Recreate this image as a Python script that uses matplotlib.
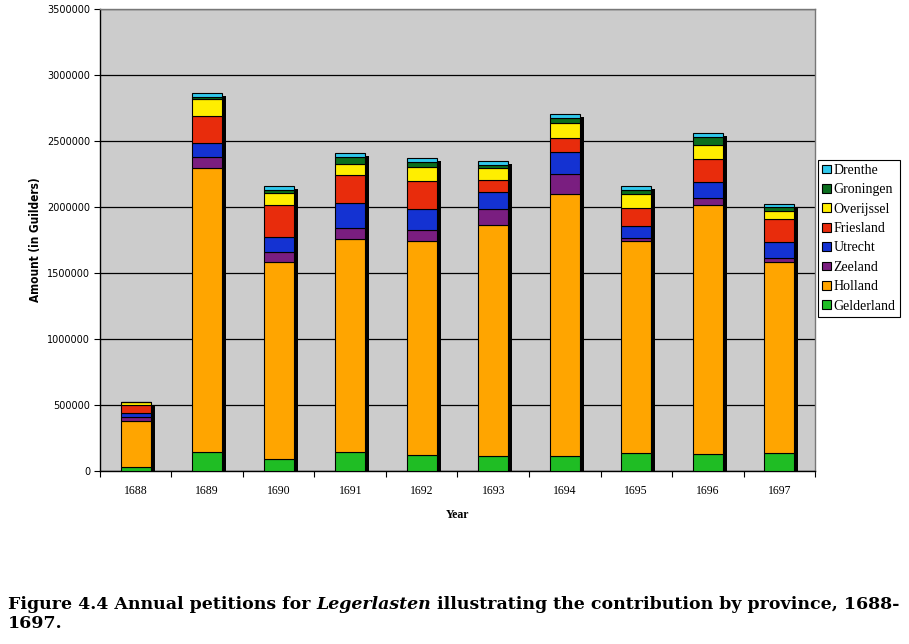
import numpy as np
import matplotlib
matplotlib.use('Agg')
import matplotlib.pyplot as plt
from matplotlib.patches import Rectangle
from matplotlib.transforms import offset_copy

# years and province contributions (guilders)
years = ['1688', '1689', '1690', '1691', '1692', '1693', '1694', '1695', '1696', '1697']
provinces = ['Gelderland', 'Holland', 'Zeeland', 'Utrecht', 'Friesland', 'Overijssel', 'Groningen', 'Drenthe']

gelderland = [30000, 142000, 89000, 144000, 124000, 114000, 114000, 134000, 127000, 134000]
holland = [349000, 2155000, 1491000, 1616000, 1616000, 1750000, 1982000, 1606000, 1886000, 1446000]
zeeland = [28000, 83000, 76000, 81000, 86000, 121000, 155000, 25000, 56000, 31000]
utrecht = [31000, 106000, 114000, 192000, 159000, 127000, 167000, 89000, 118000, 121000]
friesland = [63000, 207000, 243000, 207000, 210000, 91000, 106000, 141000, 178000, 180000]
overijssel = [25000, 122000, 94000, 84000, 111000, 93000, 114000, 104000, 103000, 55000]
groningen = [0, 16000, 25000, 56000, 36000, 21000, 35000, 33000, 64000, 31000]
drenthe = [0, 30000, 25000, 30000, 30000, 30000, 28000, 25000, 30000, 28000]

colors = ['#1fbd24', '#ffa500', '#7a1e80', '#1432d2', '#e82c0c', '#ffee00', '#0b6e1e', '#30c8ec']

series = [gelderland, holland, zeeland, utrecht, friesland, overijssel, groningen, drenthe]

fig = plt.figure(figsize=(9.09, 6.44), dpi=100)
ax = fig.add_axes([0.110, 0.2686, 0.7866, 0.7174])
ax.set_facecolor('#cccccc')

x = np.arange(len(years))
width = 0.42
totals = np.sum(series, axis=0)

# drop shadow behind each stacked column
shadow = offset_copy(ax.transData, fig=fig, x=4, y=-3, units='dots')
ax.bar(x, totals, width, color='black', transform=shadow, zorder=2)

bottom = np.zeros(len(years))
for name, vals, c in zip(provinces, series, colors):
    ax.bar(x, vals, width, bottom=bottom, color=c, edgecolor='black', linewidth=0.8, zorder=3, label=name)
    bottom += np.array(vals)

ax.set_xlim(-0.5, 9.5)
ax.set_ylim(0, 3500000)
ax.set_yticks(np.arange(0, 3500001, 500000))
ax.set_yticklabels([str(v) for v in range(0, 3500001, 500000)], fontsize=7, family='DejaVu Sans')
ax.yaxis.grid(True, color='black', linewidth=0.9, zorder=1)
ax.set_axisbelow(True)

ax.set_xticks(np.arange(-0.5, 10, 1))
ax.set_xticklabels([])
ax.set_xticks(x, minor=True)
ax.set_xticklabels(years, minor=True, fontsize=8.5, family='Liberation Serif')
ax.tick_params(axis='x', which='minor', length=0, pad=10)
ax.tick_params(axis='x', which='major', length=4, direction='out')
ax.tick_params(axis='y', length=4, direction='out', pad=3)

for s in ['top', 'right']:
    ax.spines[s].set_color('#777777')
    ax.spines[s].set_linewidth(1.0)
for s in ['left', 'bottom']:
    ax.spines[s].set_color('black')
    ax.spines[s].set_linewidth(1.0)

ax.set_xlabel('Year', fontsize=8.5, fontweight='bold', family='Liberation Serif', labelpad=9)
ax.set_ylabel('Amount (in Guilders)', fontsize=8.5, fontweight='bold',
              family='DejaVu Sans', fontstretch='condensed', labelpad=4)

handles = [Rectangle((0, 0), 1, 1, facecolor=c, edgecolor='black', linewidth=0.8) for c in colors]
leg = fig.legend(handles[::-1], provinces[::-1], loc='upper left', bbox_to_anchor=(0.9, 0.752),
                 prop={'family': 'Liberation Serif', 'size': 10}, handlelength=0.6, handleheight=0.6,
                 handletextpad=0.2, labelspacing=0.46, borderpad=0.3, borderaxespad=0,
                 fancybox=False, framealpha=1, edgecolor='black')
leg.get_frame().set_linewidth(0.8)

# caption with an italic word in the middle, sized so the first line ends near the right edge
renderer = fig.canvas.get_renderer()
parts = [('Figure 4.4 Annual petitions for ', 'normal'), ('Legerlasten', 'italic'),
         (' illustrating the contribution by province, 1688-', 'normal')]


def draw_caption(size):
    xpos = 8 / 909
    made = []
    for txt, style in parts:
        t = fig.text(xpos, 1 - 609 / 644, txt, fontsize=size, fontweight='bold', style=style,
                     family='DejaVu Serif', va='baseline', ha='left')
        made.append(t)
        xpos = t.get_window_extent(renderer).x1 / fig.bbox.width
    return made, xpos * fig.bbox.width


size = 11
made, right = draw_caption(size)
for t in made:
    t.remove()
size = size * (898 - 8) / (right - 8)
draw_caption(size)
fig.text(8 / 909, 1 - 628 / 644, '1697.', fontsize=size, fontweight='bold',
         family='DejaVu Serif', va='baseline', ha='left')

fig.savefig('out.png', dpi=100)
